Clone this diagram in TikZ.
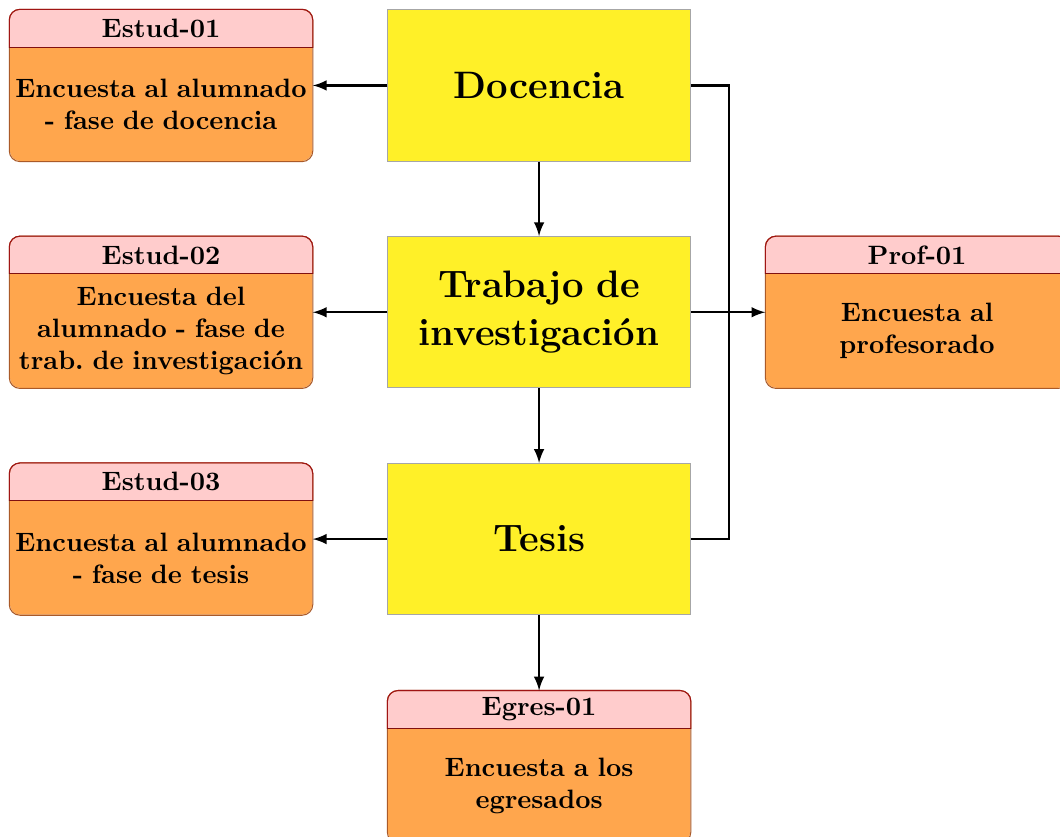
\documentclass[tikz,border=0pt]{standalone}
\usepackage{amsmath}
\usepackage{tikz}
\usetikzlibrary{positioning}
\usetikzlibrary{arrows}

\definecolor{phasefill}{RGB}{255,240,40}
\definecolor{cardfill}{RGB}{255,166,77}
\definecolor{headfill}{RGB}{255,204,204}
\definecolor{cardline}{RGB}{170,90,40}
\definecolor{headline}{RGB}{160,20,20}

\tikzset{
  phase/.style={draw=gray!70, fill=phasefill, minimum width=4cm, minimum height=2cm,
    text width=3.8cm, align=center, font=\Large\bfseries, inner sep=0pt},
  card/.style={fill=cardfill, rounded corners=4pt, minimum width=4cm, minimum height=2cm, inner sep=0pt},
  cardtext/.style={text width=4cm, align=center, font=\bfseries, inner sep=0pt},
  arr/.style={thick, -latex},
  link/.style={thick}
}

% survey card: name, position, title, text
\newcommand{\card}[4]{%
  \node[card] (#1) at (#2) {};
  \begin{scope}
    \clip[rounded corners=4pt] (#1.south west) rectangle (#1.north east);
    \fill[headfill] ([yshift=-0.5cm]#1.north west) rectangle (#1.north east);
  \end{scope}
  \draw[cardline, rounded corners=4pt] (#1.south west) rectangle (#1.north east);
  \begin{scope}
    \clip ([shift={(-2pt,-0.5cm)}]#1.north west) rectangle ([shift={(2pt,2pt)}]#1.north east);
    \draw[headline, rounded corners=4pt] (#1.south west) rectangle (#1.north east);
  \end{scope}
  \draw[headline!80!black] ([yshift=-0.5cm]#1.north west) -- ([yshift=-0.5cm]#1.north east);
  \node[font=\bfseries] (#1-title) at ([yshift=-0.25cm]#1.north) {#3};
  \node[cardtext] (#1-text) at ([yshift=-0.25cm]#1.center) {#4};
}

\begin{document}
\begin{tikzpicture}

  \useasboundingbox (0,0) rectangle (14.02,-11.07);

  \node[phase] (doc) at (7.13,-1.13) {Docencia};
  \node[phase] (trab) at (7.13,-4.13) {Trabajo de investigación};
  \node[phase] (tes) at (7.13,-7.13) {Tesis};

  \card{est1}{2.13,-1.13}{Estud-01}{Encuesta al alumnado\\ - fase de docencia}
  \card{est2}{2.13,-4.13}{Estud-02}{Encuesta del\\ alumnado - fase de\\ trab.\ de investigación}
  \card{est3}{2.13,-7.13}{Estud-03}{Encuesta al alumnado\\ - fase de tesis}
  \card{prof}{12.13,-4.13}{Prof-01}{Encuesta al\\ profesorado}
  \card{egr}{7.13,-10.14}{Egres-01}{Encuesta a los\\ egresados}

  \draw[arr] (doc) -- (est1);
  \draw[arr] (trab) -- (est2);
  \draw[arr] (tes) -- (est3);

  \draw[arr] (doc) -- (trab);
  \draw[arr] (trab) -- (tes);
  \draw[arr] (tes) -- (egr);

  \draw[link] (doc.east) -- ([xshift=0.5cm]doc.east) |- (tes.east);
  \draw[arr] (trab) -- (prof);

\end{tikzpicture}
\end{document}
